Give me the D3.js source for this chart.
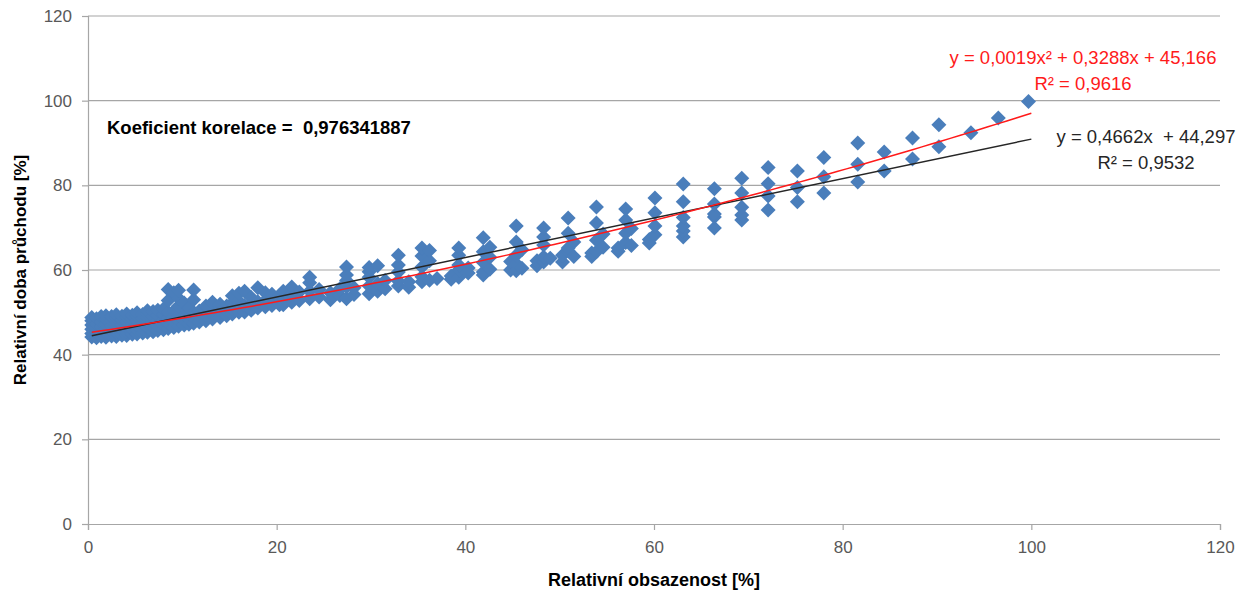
<!DOCTYPE html>
<html>
<head>
<meta charset="utf-8">
<script src="https://cdn.jsdelivr.net/npm/d3@7"></script>
<style>
  body { margin: 0; background: #fff; }
  text { font-family: "Liberation Sans", Arial, sans-serif; }
</style>
</head>
<body>
<svg id="chart" width="1244" height="594"></svg>
<script>
// relativni obsazenost [%] of each measured column of points
const sloupceX = [
    0.4, 0.9, 1.4, 1.9, 2.5, 3.0, 3.6, 4.1, 4.7, 5.2, 5.8, 6.3, 6.9, 7.4, 8.0,
    8.5, 9.1, 9.6, 10.2, 10.7, 11.2, 11.8, 12.5, 13.2, 14.0, 14.7, 15.3, 16.0,
    16.6, 17.3, 18.0, 18.8, 19.5, 20.3, 20.7, 21.6, 22.4, 23.5, 24.5, 25.7,
    26.7, 27.4, 28.2, 29.8, 30.7, 31.5, 32.9, 34.0, 35.4, 36.2, 37.0, 38.5,
    39.3, 40.3, 41.9, 42.6, 44.8, 45.4, 46.0, 47.6, 48.3, 49.0, 50.3, 50.9,
    51.5, 53.4, 53.9, 54.6, 56.2, 57.0, 57.6, 59.5, 60.1, 63.1, 66.4, 69.3,
    72.1, 75.2, 78.0, 81.6, 84.4, 87.4, 90.2, 93.6, 96.5, 99.7
];
// relativni doba pruchodu [%] for each column above
const sloupceY = [
    [44.2, 45.0, 46.0, 47.0, 48.0, 48.8],
    [44.0, 45.2, 46.3, 47.4, 48.5],
    [44.3, 45.5, 46.6, 47.8, 49.0],
    [44.1, 45.1, 46.2, 47.3, 48.4, 49.2],
    [44.4, 45.6, 46.8, 48.0, 49.0],
    [44.3, 45.3, 46.4, 47.6, 48.7, 49.4],
    [44.6, 45.8, 47.0, 48.2, 49.1],
    [44.5, 45.5, 46.6, 47.8, 48.9, 49.6],
    [44.8, 46.0, 47.2, 48.4, 49.3],
    [44.9, 45.9, 47.0, 48.1, 49.2, 49.9],
    [45.1, 46.2, 47.4, 48.6, 49.5],
    [45.3, 46.4, 47.5, 48.7, 49.8, 50.4],
    [45.4, 46.6, 47.8, 49.0, 50.2],
    [45.7, 46.9, 48.1, 49.3, 50.5],
    [45.9, 47.0, 48.2, 49.5, 50.8],
    [46.2, 47.4, 48.7, 50.0, 52.8, 55.4],
    [46.4, 47.7, 49.0, 50.3, 54.6],
    [46.7, 48.0, 49.3, 51.5, 53.3, 55.2],
    [47.0, 48.2, 49.5, 52.2],
    [47.2, 48.5, 49.8, 51.0],
    [47.4, 48.7, 50.0, 53.0, 55.3],
    [47.7, 49.0, 50.3],
    [48.0, 49.3, 50.6, 51.5],
    [48.4, 49.7, 51.0, 52.4],
    [48.8, 50.0, 51.3, 51.9],
    [49.2, 50.3, 51.5],
    [49.6, 50.8, 52.2, 53.9],
    [50.0, 51.3, 52.6, 54.5],
    [50.1, 51.6, 55.0],
    [50.5, 52.0, 53.5],
    [51.0, 52.5, 55.8],
    [51.3, 52.8, 54.6],
    [51.6, 53.0, 54.3],
    [51.8, 53.2, 54.0],
    [51.8, 53.6, 55.0],
    [52.4, 54.2, 56.0],
    [52.8, 54.8],
    [53.2, 55.0, 57.0, 58.3],
    [53.6, 55.4],
    [53.0, 54.6],
    [54.0, 55.6],
    [53.2, 56.0, 57.5, 58.8, 60.7],
    [54.2, 55.8],
    [54.4, 56.2, 58.3, 59.6, 60.6],
    [55.0, 56.8, 61.0],
    [55.6, 57.5],
    [56.2, 57.4, 59.5, 61.2, 63.5],
    [55.9, 57.2],
    [57.2, 58.4, 60.7, 63.3, 65.2],
    [57.6, 62.2, 64.6],
    [58.0],
    [57.8, 58.6],
    [58.3, 60.0, 61.2, 63.5, 65.2],
    [59.3, 60.5],
    [58.8, 59.5, 61.8, 64.3, 67.6],
    [60.2, 63.0, 65.4],
    [60.0, 62.0],
    [59.8, 61.5, 63.5, 66.6, 70.4],
    [60.4, 64.8],
    [61.0, 62.2],
    [61.9, 63.1, 65.9, 67.8, 69.9],
    [62.8],
    [61.9, 63.5],
    [64.5, 65.2, 68.7, 72.3],
    [63.2, 66.6],
    [63.2, 64.0],
    [64.3, 67.0, 71.1, 74.9],
    [65.4, 68.5],
    [64.4, 65.2],
    [66.5, 68.7, 71.8, 74.4],
    [65.8, 69.8],
    [66.4, 67.2],
    [68.3, 70.4, 73.5, 77.0],
    [67.8, 69.2, 70.4, 72.4, 76.1, 80.3],
    [69.9, 72.5, 73.2, 75.6, 79.2],
    [71.8, 73.0, 74.8, 78.2, 81.7],
    [74.2, 77.5, 80.4, 84.2],
    [76.1, 79.5, 83.4],
    [78.2, 82.0, 86.6],
    [80.8, 85.0, 90.0],
    [83.4, 87.9],
    [86.2, 91.2],
    [89.1, 94.3],
    [92.4],
    [95.9],
    [99.8]
];

const xTicks = [0, 20, 40, 60, 80, 100, 120];
const yTicks = [0, 20, 40, 60, 80, 100, 120];

// trend lines (coefficients from highest power down)
const linearFit = [0.4662, 44.297];
const polyFit = [0.0019, 0.3288, 45.166];

const linearLabel = ["y = 0,4662x  + 44,297", "R² = 0,9532"];
const polyLabel = ["y = 0,0019x² + 0,3288x + 45,166", "R² = 0,9616"];
const korelaceLabel = "Koeficient korelace =  0,976341887";

const xTitle = "Relativní obsazenost [%]";
const yTitle = "Relativní doba průchodu [%]";

// flatten the columns into points
const points = [];
sloupceX.forEach(function (x, i) {
    sloupceY[i].forEach(function (y) { points.push({ x: x, y: y }); });
});

const svg = d3.select("#chart");
const margin = { left: 88, right: 24, top: 16, bottom: 70 };
const width = 1244 - margin.left - margin.right;
const height = 594 - margin.top - margin.bottom;

const x = d3.scaleLinear().domain([0, 120]).range([margin.left, margin.left + width]);
const y = d3.scaleLinear().domain([0, 120]).range([margin.top + height, margin.top]);

const gridColor = "#a6a6a6";

// horizontal gridlines
svg.append("g")
    .selectAll("line")
    .data(yTicks.filter(function (d) { return d > 0; }))
    .enter()
    .append("line")
    .attr("x1", x(0))
    .attr("x2", x(120))
    .attr("y1", function (d) { return y(d); })
    .attr("y2", function (d) { return y(d); })
    .attr("stroke", gridColor)
    .attr("stroke-width", 1.2);

// axes
const xAxis = svg.append("g")
    .attr("transform", "translate(0," + y(0) + ")")
    .call(d3.axisBottom(x).tickValues(xTicks).tickSize(6).tickPadding(11));
const yAxis = svg.append("g")
    .attr("transform", "translate(" + x(0) + ",0)")
    .call(d3.axisLeft(y).tickValues(yTicks).tickSize(6).tickPadding(10));

[xAxis, yAxis].forEach(function (g) {
    g.select(".domain").attr("stroke", gridColor).attr("stroke-width", 1.2);
    g.selectAll(".tick line").attr("stroke", gridColor).attr("stroke-width", 1.2);
    g.selectAll(".tick text")
        .attr("fill", "#595959")
        .style("font-size", "17px")
        .style("font-family", "'Liberation Sans', Arial, sans-serif");
});

// scatter markers: diamonds
const r = 7.5;
const diamond = "M0," + (-r) + "L" + r + ",0L0," + r + "L" + (-r) + ",0Z";
svg.append("g")
    .selectAll("path")
    .data(points)
    .enter()
    .append("path")
    .attr("d", diamond)
    .attr("transform", function (d) {
        return "translate(" + x(d.x) + "," + y(d.y) + ")";
    })
    .attr("fill", "#4a7ebb");

// trend lines over the data range
const xMin = d3.min(sloupceX);
const xMax = d3.max(sloupceX) + 0.3;
const line = d3.line()
    .x(function (d) { return x(d[0]); })
    .y(function (d) { return y(d[1]); });

svg.append("path")
    .datum([xMin, xMax].map(function (v) {
        return [v, linearFit[0] * v + linearFit[1]];
    }))
    .attr("d", line)
    .attr("fill", "none")
    .attr("stroke", "#262626")
    .attr("stroke-width", 1.5);

svg.append("path")
    .datum(d3.range(xMin, xMax + 0.01, 1).concat([xMax]).map(function (v) {
        return [v, polyFit[0] * v * v + polyFit[1] * v + polyFit[2]];
    }))
    .attr("d", line)
    .attr("fill", "none")
    .attr("stroke", "#ff1a1a")
    .attr("stroke-width", 1.5);

// equation labels
svg.append("g")
    .selectAll("text")
    .data(polyLabel)
    .enter()
    .append("text")
    .attr("x", 1083)
    .attr("y", function (d, i) { return 64 + i * 26; })
    .attr("text-anchor", "middle")
    .attr("fill", "#ff1a1a")
    .style("font-size", "18.5px")
    .style("white-space", "pre")
    .text(function (d) { return d; });

svg.append("g")
    .selectAll("text")
    .data(linearLabel)
    .enter()
    .append("text")
    .attr("x", 1146)
    .attr("y", function (d, i) { return 143 + i * 26; })
    .attr("text-anchor", "middle")
    .attr("fill", "#262626")
    .style("font-size", "18.5px")
    .style("white-space", "pre")
    .text(function (d) { return d; });

svg.append("text")
    .attr("x", 107)
    .attr("y", 134)
    .attr("fill", "#000")
    .style("font-size", "18.5px")
    .style("font-weight", "bold")
    .style("white-space", "pre")
    .text(korelaceLabel);

// axis titles
svg.append("text")
    .attr("x", x(60))
    .attr("y", 586)
    .attr("text-anchor", "middle")
    .style("font-size", "18px")
    .style("font-weight", "bold")
    .text(xTitle);

svg.append("text")
    .attr("transform", "translate(26," + y(60) + ") rotate(-90)")
    .attr("text-anchor", "middle")
    .style("font-size", "17px")
    .style("font-weight", "bold")
    .text(yTitle);
</script>
</body>
</html>
